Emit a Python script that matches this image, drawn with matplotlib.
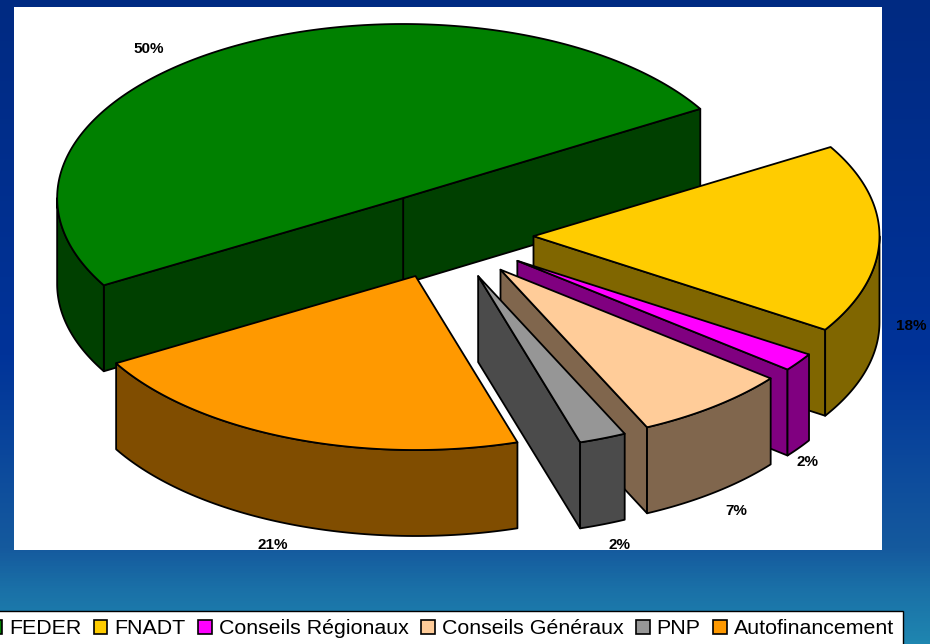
import numpy as np
import matplotlib
matplotlib.use('Agg')
import matplotlib.pyplot as plt
from matplotlib.colors import LinearSegmentedColormap
from matplotlib.patches import Polygon, Rectangle

plt.rcParams['font.family'] = ['Liberation Sans', 'DejaVu Sans']

categories = ['FEDER', 'FNADT', 'Conseils Régionaux', 'Conseils Généraux', 'PNP', 'Autofinancement']
# shares, they round to the printed labels
values = [49.8, 17.6, 1.7, 7.3, 2.2, 21.4]
top_colors = ['#008000', '#FFCC00', '#FF00FF', '#FFCC99', '#969696', '#FF9900']
side_colors = ['#004000', '#806600', '#800080', '#80664D', '#4B4B4B', '#804D00']

# pixel offset of each percent label from the rim of its slice
label_offsets = [(-79, 1), (32, 87), (9, 99.5), (22, 105), (17, 107), (-17, 107)]

# pie geometry, in picture pixels
CX, CY = 447, 235.5
RX, RY = 346, 174
DEPTH = 86
EXPLODE = 0.25
START = 210.1  # slices run clockwise from here

fig = plt.figure(figsize=(9.3, 6.44), dpi=100)
ax = fig.add_axes((0, 0, 1, 1))

# Blue slide background
bg = LinearSegmentedColormap.from_list('bg', [
    (0.0, '#002A82'), (0.55, '#003399'), (0.854, '#155A9E'), (0.916, '#1A70A7'), (1.0, '#1F86B0')])
ax.imshow(np.linspace(0, 1, 644).reshape(-1, 1), cmap=bg, aspect='auto',
          extent=(0, 930, 644, 0), vmin=0, vmax=1, zorder=0)
ax.set_xlim(0, 930)
ax.set_ylim(644, 0)
ax.axis('off')

# White plot area
ax.add_patch(Rectangle((14, 7), 868, 543, facecolor='white', edgecolor='none', zorder=1))


def rim(cx, cy, t):
    rad = np.radians(t)
    return cx + RX * np.cos(rad), cy - RY * np.sin(rad)


def draw_slice(value, top_color, side_color, t_hi):
    t_lo = t_hi - value * 3.6
    mid = (t_lo + t_hi) / 2
    cx = CX + EXPLODE * RX * np.cos(np.radians(mid))
    cy = CY - EXPLODE * RY * np.sin(np.radians(mid))
    style = dict(linewidth=1.3, edgecolor='black', joinstyle='round', zorder=3)

    # Cut faces, only those turned toward the viewer
    for t, normal in ((t_lo, t_lo - 90), (t_hi, t_hi + 90)):
        if np.sin(np.radians(normal)) >= 0:
            continue
        x, y = rim(cx, cy, t)
        ax.add_patch(Polygon([(cx, cy), (x, y), (x, y + DEPTH), (cx, cy + DEPTH)],
                             facecolor=side_color, **style))

    # Outer wall, only the part facing the viewer
    for lo, hi in ((-180, 0), (180, 360)):
        a, b = max(t_lo, lo), min(t_hi, hi)
        if a >= b:
            continue
        ts = np.linspace(a, b, 80)
        xs, ys = rim(cx, cy, ts)
        pts = list(zip(xs, ys)) + list(zip(xs[::-1], ys[::-1] + DEPTH))
        ax.add_patch(Polygon(pts, facecolor=side_color, **style))

    # Top
    ts = np.linspace(t_lo, t_hi, 200)
    xs, ys = rim(cx, cy, ts)
    ax.add_patch(Polygon([(cx, cy)] + list(zip(xs, ys)), facecolor=top_color, **style))

    return rim(cx, cy, mid)


t_hi = START
for value, top, side, off in zip(values, top_colors, side_colors, label_offsets):
    x, y = draw_slice(value, top, side, t_hi)
    ax.text(x + off[0], y + off[1], f'{value:.0f}%', ha='center', va='center',
            fontsize=11, fontweight='bold', color='black', zorder=5)
    t_hi -= value * 3.6

# Legend runs off the left and bottom of the picture
handles = [Rectangle((0, 0), 1, 1, facecolor=c, edgecolor='black', linewidth=1.2) for c in top_colors]
leg = ax.legend(handles, categories, ncol=6, loc='upper right',
                bbox_to_anchor=(903, 610.5), bbox_transform=ax.transData,
                fontsize=15.4, frameon=True, fancybox=False, framealpha=1,
                facecolor='white', edgecolor='black', borderpad=0.42, borderaxespad=0,
                handlelength=0.62, handleheight=0.62, handletextpad=0.33, columnspacing=0.6)
leg.get_frame().set_linewidth(1.0)
leg.set_zorder(6)
leg.set_clip_on(False)

fig.savefig('out.png', dpi=100)
